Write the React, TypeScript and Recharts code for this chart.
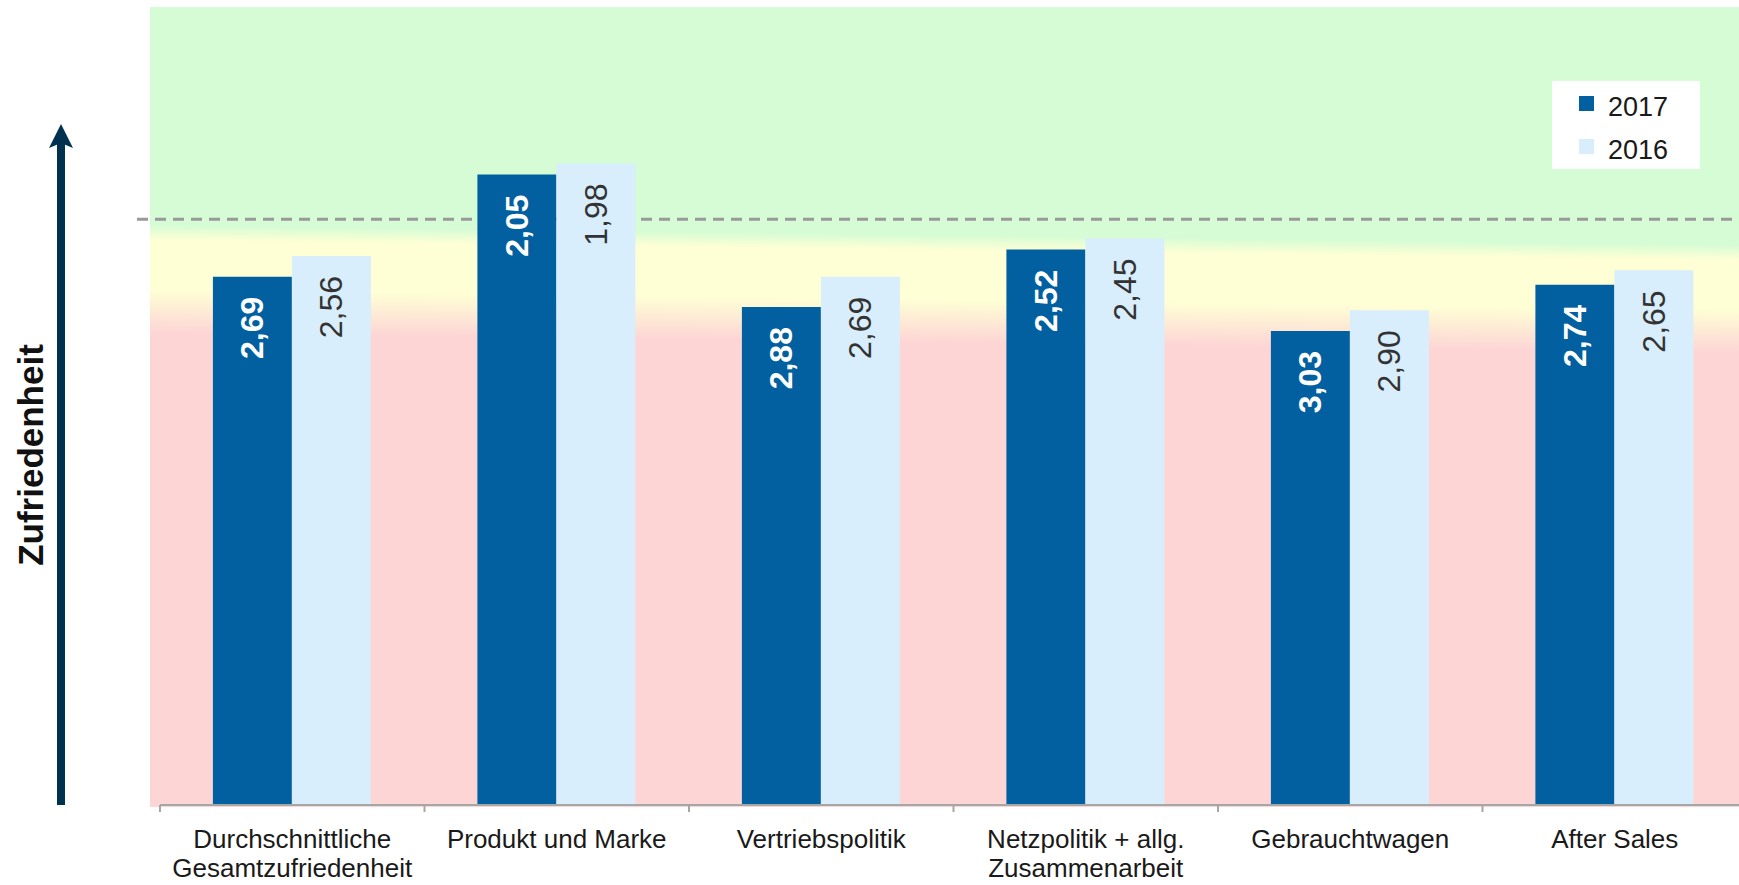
import {
  BarChart,
  Bar,
  XAxis,
  YAxis,
  ReferenceArea,
  LabelList,
  Legend,
} from "recharts";

// Schulnoten: 1 = beste, 6 = schlechteste (Achse ist umgedreht)
const categories = [
  "Durchschnittliche\nGesamtzufriedenheit",
  "Produkt und Marke",
  "Vertriebspolitik",
  "Netzpolitik + allg.\nZusammenarbeit",
  "Gebrauchtwagen",
  "After Sales",
];
const scores2017 = [2.69, 2.05, 2.88, 2.52, 3.03, 2.74];
const scores2016 = [2.56, 1.98, 2.69, 2.45, 2.9, 2.65];
const gradeBest = 1;
const gradeWorst = 6;
const targetGrade = 2.33;

const data = categories.map((name, i) => ({
  name,
  y2017: scores2017[i],
  y2016: scores2016[i],
}));

const DARK = "#0260a0";
const LIGHT = "#d9eefc";
const FONT = '"Liberation Sans", Arial, sans-serif';

const series = [
  { key: "y2017", name: "2017", color: DARK, bold: true },
  { key: "y2016", name: "2016", color: LIGHT, bold: false },
];

const fmt = (v: number) => v.toFixed(2).replace(".", ",");

function ValueLabel(props: any) {
  const vb = props.viewBox || props;
  const { x, y, width } = vb;
  const cx = x + width / 2;
  return (
    <text
      x={cx}
      y={y + 20}
      transform={`rotate(-90 ${cx} ${y + 20})`}
      textAnchor="end"
      dominantBaseline="central"
      fontSize={32}
      fontWeight={props.bold ? 700 : 400}
      fill={props.bold ? "#ffffff" : "#333333"}
    >
      {fmt(Number(props.value))}
    </text>
  );
}

function CategoryTick({ x, y, payload }: any) {
  const lines = String(payload.value).split("\n");
  const half = payload.offset ?? 0;
  return (
    <g>
      <line
        x1={x - half}
        y1={y}
        x2={x - half}
        y2={y + 7}
        stroke="#a6a6a6"
        strokeWidth={2}
      />
      <text x={x} y={y} textAnchor="middle" fontSize={26} fill="#1a1a1a">
        {lines.map((l, i) => (
          <tspan key={i} x={x} dy={i === 0 ? 43 : 29}>
            {l}
          </tspan>
        ))}
      </text>
    </g>
  );
}

function SatisfactionAxis({ viewBox }: any) {
  const bottom = viewBox.y + viewBox.height;
  const cx = 61;
  return (
    <g>
      <rect x={cx - 4} y={143} width={8} height={bottom - 143} fill="#00324f" />
      <path
        d={`M${cx},124 L${cx + 12},148 L${cx},143 L${cx - 12},148 Z`}
        fill="#00324f"
      />
      <text
        x={30}
        y={455}
        transform="rotate(-90 30 455)"
        textAnchor="middle"
        dominantBaseline="central"
        fontSize={35}
        fontWeight={700}
        fill="#111"
      >
        Zufriedenheit
      </text>
    </g>
  );
}

function YearLegend() {
  return (
    <svg width={148} height={88} style={{ display: "block" }}>
      <rect width={148} height={88} fill="#ffffff" />
      {series.map((s, i) => (
        <g key={s.name}>
          <rect x={27} y={15 + i * 43} width={15} height={15} fill={s.color} />
          <text x={56} y={35 + i * 43} fontSize={27} fill="#1a1a1a" fontFamily={FONT}>
            {s.name}
          </text>
        </g>
      ))}
    </svg>
  );
}

export default function App() {
  return (
    <div
      style={{
        position: "fixed",
        top: 0,
        left: 0,
        width: 1739,
        height: 885,
        overflow: "hidden",
        fontFamily: FONT,
        background: "#fff",
      }}
    >
      <BarChart
        width={1747}
        height={885}
        data={data}
        margin={{ top: 7, right: 0, bottom: 0, left: 0 }}
        barCategoryGap="20%"
        barGap={0}
      >
        <defs>
          <linearGradient
            id="zoneBg"
            gradientUnits="userSpaceOnUse"
            x1={150}
            y1={0}
            x2={140}
            y2={800}
          >
            <stop offset="0" stopColor="#d5fcd5" />
            <stop offset="0.281" stopColor="#d5fcd5" />
            <stop offset="0.3" stopColor="#feffd5" />
            <stop offset="0.362" stopColor="#feffd5" />
            <stop offset="0.416" stopColor="#fdd5d5" />
            <stop offset="1" stopColor="#fdd5d5" />
          </linearGradient>
        </defs>
        <XAxis
          dataKey="name"
          height={80}
          interval={0}
          tickLine={false}
          tickSize={0}
          tickMargin={0}
          axisLine={{ stroke: "#a6a6a6", strokeWidth: 2 }}
          tick={<CategoryTick />}
        />
        <YAxis
          type="number"
          domain={[gradeBest, gradeWorst]}
          allowDataOverflow
          reversed
          width={160}
          tick={false}
          tickLine={false}
          axisLine={false}
          label={<SatisfactionAxis />}
        />
        {/* Hintergrund-Zonen */}
        <ReferenceArea
          y1={gradeBest}
          y2={gradeWorst}
          ifOverflow="visible"
          shape={(p: any) => (
            <rect
              x={p.x - 10}
              y={p.y}
              width={p.width + 10}
              height={p.height + 2}
              fill="url(#zoneBg)"
            />
          )}
        />
        {/* Ziellinie, hinter den Balken */}
        <ReferenceArea
          y1={gradeBest}
          y2={targetGrade}
          ifOverflow="visible"
          shape={(p: any) => (
            <line
              x1={p.x - 23}
              y1={p.y + p.height}
              x2={p.x + p.width}
              y2={p.y + p.height}
              stroke="#999999"
              strokeWidth={3}
              strokeDasharray="11 7"
            />
          )}
        />
        <Legend
          layout="vertical"
          align="center"
          verticalAlign="middle"
          wrapperStyle={{ top: 81, left: 1552, width: 148, height: 88 }}
          content={<YearLegend />}
        />
        {series.map((s) => (
          <Bar
            key={s.key}
            name={s.name}
            dataKey={(d: any) => [gradeWorst, d[s.key]]}
            fill={s.color}
            isAnimationActive={false}
          >
            <LabelList dataKey={s.key} content={<ValueLabel bold={s.bold} />} />
          </Bar>
        ))}
      </BarChart>
    </div>
  );
}
